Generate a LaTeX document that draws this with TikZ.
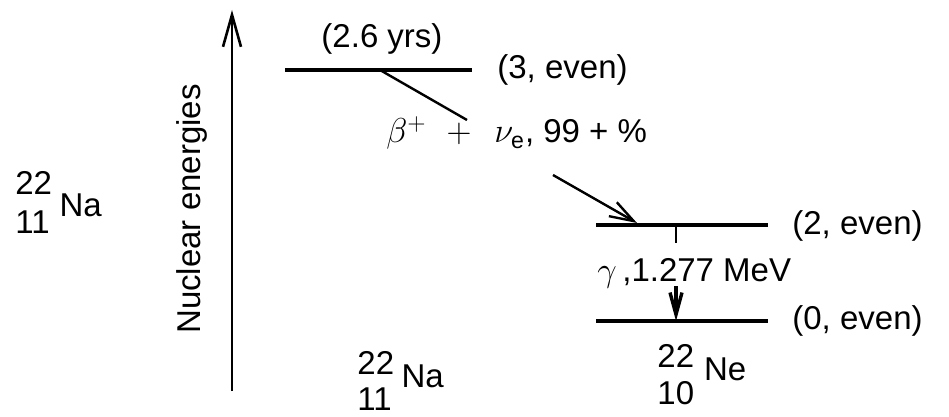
\documentclass[tikz,border=0pt]{standalone}
\usepackage{amsmath}
\usepackage{fontspec}
\setmainfont{Liberation Sans}
\usetikzlibrary{arrows.meta}

% mass number over atomic number, then the symbol
\newcommand{\nuclide}[5]{\rlap{\raisebox{#4}{#1}}\raisebox{-#5}{#2}\hspace{0.3em}#3}

\begin{document}
\begin{tikzpicture}[x=0.5pt,y=-0.5pt,
  every node/.style={font=\fontsize{16.5}{19}\selectfont, inner sep=0pt},
  level/.style={line width=2.3pt},
  decay/.style={line width=1.2pt}]
  \useasboundingbox (0,0) rectangle (949,417);

  % energy axis
  \coordinate (axbot) at (232,391);
  \coordinate (axtop) at (232,10);
  \draw[line width=1.3pt, -{Straight Barb[length=16pt,width=9pt]}] (axbot) -- (axtop);
  \node[rotate=90, anchor=base] (axlabel) at (200,209) {Nuclear energies};
  \node[anchor=base west] (naleft) at (15,217) {\nuclide{22}{11}{Na}{0.68em}{0.5em}};

  % parent level
  \coordinate (na-l) at (285,70);
  \coordinate (na-r) at (472,70);
  \coordinate (na-split) at (380,70);
  \coordinate (na-bend) at (467,120);
  \draw[level] (na-l) -- (na-r);
  \draw[decay] (na-split) -- (na-bend);
  \node[anchor=base] (halflife) at (382,48) {(2.6 yrs)};
  \node[anchor=west] (na-spin) at (497,70) {(3, even)};
  \node[anchor=base west] (betatext) at (386,143)
    {$\beta^{+}$\hspace{0.6em}$+$\hspace{0.7em}$\nu_{\mathrm{e}}$, 99 + \%};

  % daughter levels
  \coordinate (ne2-l) at (596,225);
  \coordinate (ne2-r) at (768,225);
  \coordinate (ne0-l) at (596,321);
  \coordinate (ne0-r) at (768,321);
  \draw[level] (ne2-l) -- (ne2-r);
  \draw[level] (ne0-l) -- (ne0-r);
  \node[anchor=west] (ne2-spin) at (792,226) {(2, even)};
  \node[anchor=west] (ne0-spin) at (792,321) {(0, even)};

  % beta feed
  \coordinate (beta-start) at (553,175);
  \coordinate (beta-end) at (637,223);
  \draw[decay, -{Straight Barb[length=12pt,width=8pt]}] (beta-start) -- (beta-end);

  % gamma transition
  \coordinate (tick-top) at (676,225);
  \coordinate (tick-bot) at (676,243);
  \coordinate (gam-start) at (676,286);
  \draw[decay] (tick-top) -- (tick-bot);
  \node[anchor=base west] (gammatext) at (597,282) {$\gamma$\,,1.277 MeV};
  \draw[line width=1.7pt, -{Straight Barb[length=11pt,width=6pt]}] (gam-start) -- (gam-start |- ne0-l);

  % nuclide names
  \node[anchor=base west] (nabot) at (357,387) {\nuclide{22}{11}{Na}{0.37em}{0.72em}};
  \node[anchor=base west] (nebot) at (657,380) {\nuclide{22}{10}{Ne}{0.37em}{0.74em}};
\end{tikzpicture}
\end{document}
